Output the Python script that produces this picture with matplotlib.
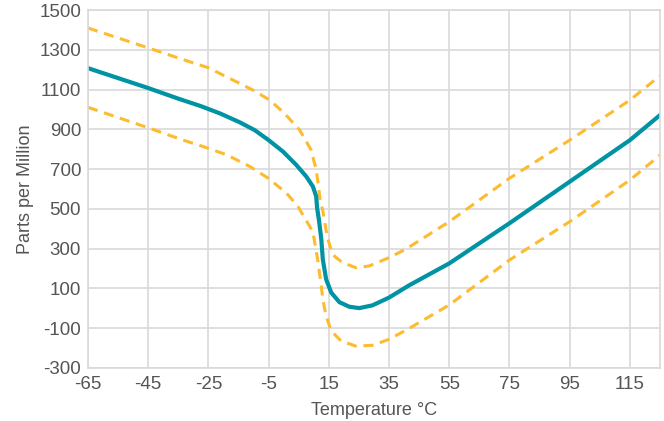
import matplotlib
matplotlib.use("Agg")
import matplotlib.pyplot as plt

# Values
temp = [-65, -45, -34.7, -27.7, -21.1, -14.5, -9.6, -5, -0.2, 4.2, 7.5, 9.7, 10.8, 11.1,
        11.7, 12.5, 13, 14.1, 15.8, 18.5, 21.8, 25.1, 29.5, 35, 41.6, 55, 75, 95, 115, 125]
ppm = [1208, 1108, 1053, 1018, 980, 935, 896, 846, 788, 721, 663, 613, 563, 505,
       446, 347, 246, 146, 79, 31, 8, 1, 15, 54, 115, 226, 428, 637, 846, 972]

upper_t = [-65, -44.4, -33.6, -25, -10.1, -4.6, 0.3, 5.3, 9.1, 10.8, 11.5, 12.1, 13, 14,
           14.7, 16.3, 17.5, 19.6, 24, 28.4, 35, 40.5, 55, 75, 95, 115, 125]
upper_ppm = [1410, 1307, 1252, 1210, 1097, 1047, 980, 897, 797, 697, 620, 545, 490, 400,
             346, 271, 254, 230, 204, 213, 255, 297, 436, 654, 846, 1047, 1170]

lower_t = [-65, -44.4, -33.6, -26.6, -18.9, -11.2, -5.2, 0.9, 4.7, 9.7, 11.3, 12.5, 13,
           14.1, 15.8, 19.1, 24, 29.5, 35, 41.1, 55, 75, 95, 115, 125]
lower_ppm = [1011, 905, 847, 813, 772, 713, 655, 580, 513, 385, 245, 111, 45,
             -39, -114, -165, -190, -186, -156, -106, 17, 243, 436, 645, 771]

xticks = list(range(-65, 116, 20))
yticks = list(range(-300, 1501, 200))

plt.rcParams['font.family'] = ['Liberation Sans', 'DejaVu Sans']

fig = plt.figure(figsize=(6.64, 4.21), dpi=100)
ax = fig.add_axes([0.1325, 0.126, 0.8615, 0.85])

teal = '#0093A3'
gold = '#FDBB2F'

ax.plot(upper_t, upper_ppm, color=gold, lw=2.2, dashes=(3.3, 2.2))
ax.plot(lower_t, lower_ppm, color=gold, lw=2.2, dashes=(3.3, 2.2))
ax.plot(temp, ppm, color=teal, lw=3.0, solid_joinstyle='round')

ax.set_xlim(-65, 125)
ax.set_ylim(-300, 1500)
ax.set_xticks(xticks)
ax.set_yticks(yticks)
ax.set_xticklabels([str(t) for t in xticks])
ax.set_yticklabels([str(t) for t in yticks])

ax.grid(True, color='#D9D9D9', lw=1.2)
ax.set_axisbelow(True)
for s in ax.spines.values():
    s.set_color('#D9D9D9')
    s.set_linewidth(1.2)

ax.tick_params(length=0, labelsize=13.5, colors='#555555', pad=5)
ax.tick_params(axis='x', pad=6)
ax.set_xlabel('Temperature °C', fontsize=13, color='#555555', labelpad=6)
ax.set_ylabel('Parts per Million', fontsize=13, color='#555555', labelpad=4)

fig.savefig('out.png', dpi=100)
